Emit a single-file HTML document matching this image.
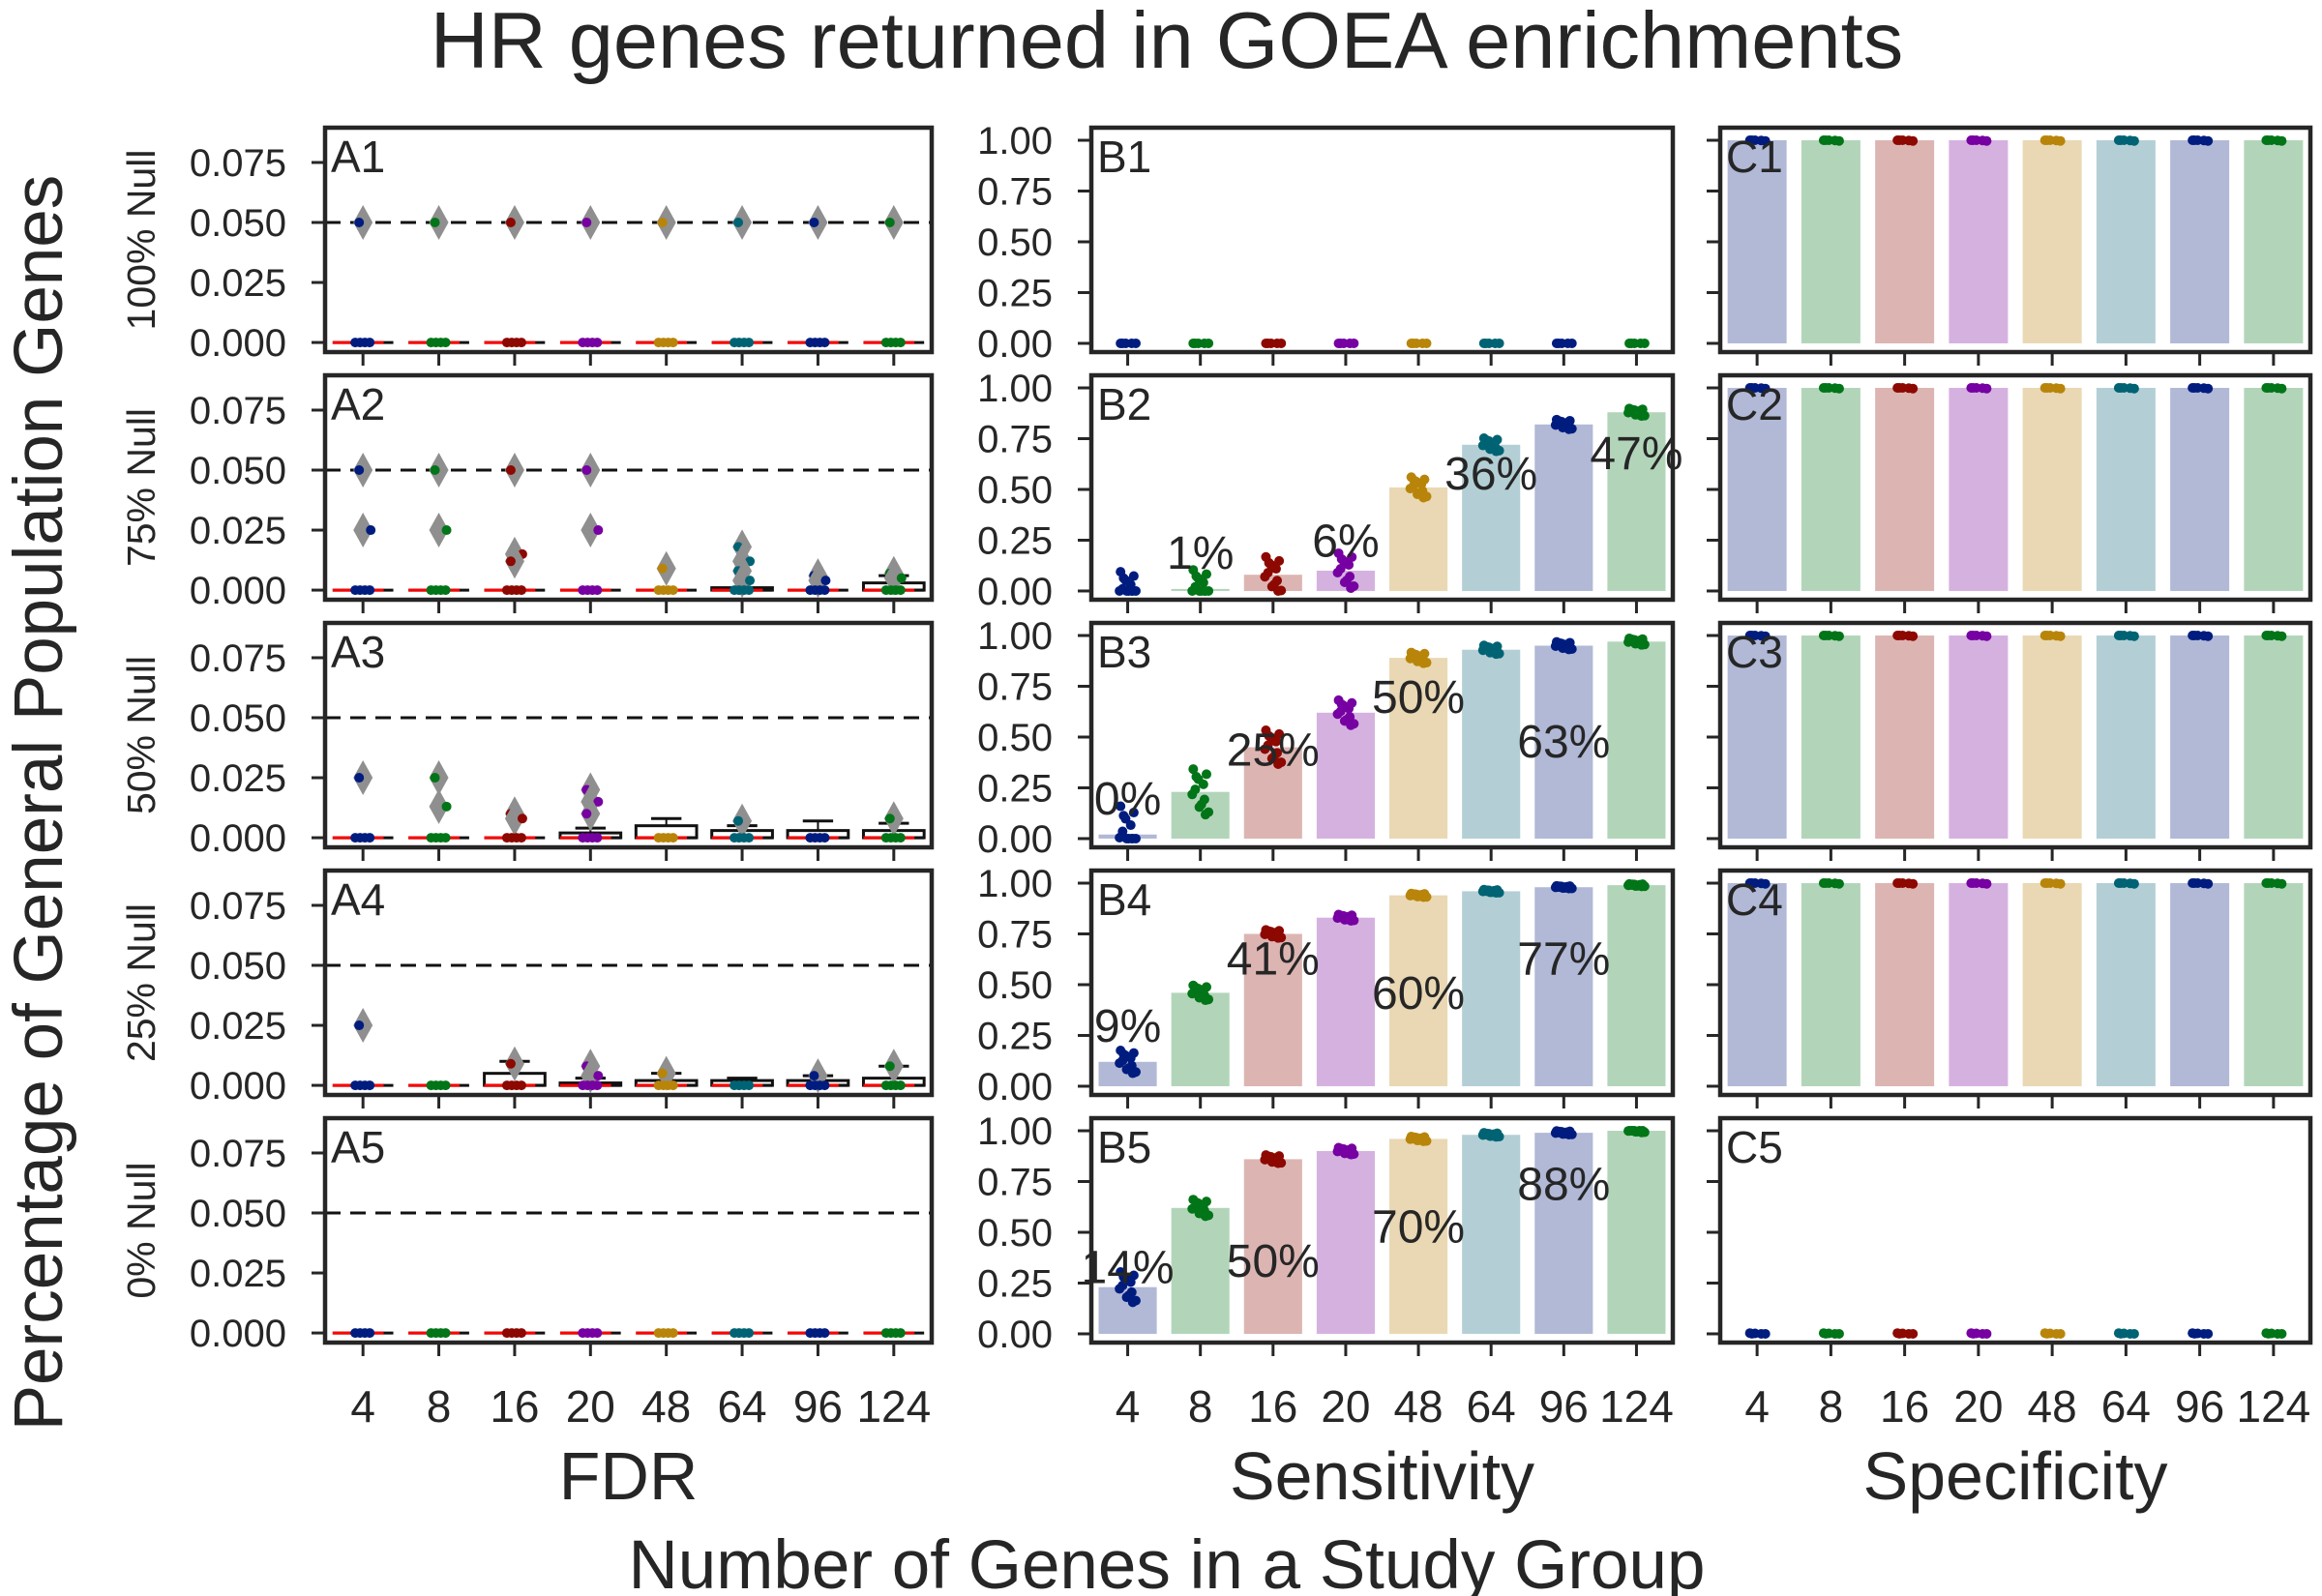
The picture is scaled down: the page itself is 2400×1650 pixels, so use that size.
<!DOCTYPE html>
<html><head><meta charset="utf-8"><style>
html,body{margin:0;padding:0;background:#fff;}
svg{display:block;font-family:"Liberation Sans",Arial,sans-serif;}
</style></head><body>
<svg id="fig" width="2400" height="1650" viewBox="0 0 2400 1650" xmlns="http://www.w3.org/2000/svg">
<text x="1206" y="70" font-size="83" text-anchor="middle" fill="#262626">HR genes returned in GOEA enrichments</text>
<text transform="translate(64,830) rotate(-90)" font-size="71" text-anchor="middle" fill="#262626">Percentage of General Population Genes</text>
<text x="1206" y="1642" font-size="71" text-anchor="middle" fill="#262626">Number of Genes in a Study Group</text>
<g id="plots"></g>
</svg>
<script>
const categories = ["4","8","16","20","48","64","96","124"];
const rowLabels = ["100% Null","75% Null","50% Null","25% Null","0% Null"];
const colTitles = ["FDR","Sensitivity","Specificity"];
const aTicks = ["0.000","0.025","0.050","0.075"];
const aTickVals = [0,0.025,0.05,0.075];
const bTicks = ["0.00","0.25","0.50","0.75","1.00"];
const bTickVals = [0,0.25,0.5,0.75,1.0];
const colors = ["#001c7f","#017517","#8c0800","#7600a1","#b8850a","#006374","#001c7f","#017517"];
const barColors = ["#b1b9d6","#b2d5ba","#dcb5b3","#d5b1e0","#e9d8b3","#b3cfd5","#b1b9d6","#b2d5ba"];
// Sensitivity bar heights per row
const sens1 = [0,0,0,0,0,0,0,0];
const sens2 = [0.0,0.01,0.08,0.10,0.51,0.72,0.82,0.88];
const sens3 = [0.02,0.23,0.45,0.62,0.89,0.93,0.95,0.97];
const sens4 = [0.12,0.46,0.75,0.83,0.94,0.96,0.98,0.99];
const sens5 = [0.23,0.62,0.86,0.90,0.96,0.98,0.99,1.0];
const sensSpread = [0.0,0.06,0.09,0.04,0.06];
// Sensitivity percentage labels: [category index, y position, text]
const sensLab2 = [[1,0.11,"1%"],[3,0.17,"6%"],[5,0.50,"36%"],[7,0.60,"47%"]];
const sensLab3 = [[0,0.12,"0%"],[2,0.36,"25%"],[4,0.62,"50%"],[6,0.40,"63%"]];
const sensLab4 = [[0,0.22,"9%"],[2,0.55,"41%"],[4,0.38,"60%"],[6,0.55,"77%"]];
const sensLab5 = [[0,0.25,"14%"],[2,0.28,"50%"],[4,0.45,"70%"],[6,0.66,"88%"]];
// Specificity bar heights per row
const spec1 = [1,1,1,1,1,1,1,1];
const spec2 = [1,1,1,1,1,1,1,1];
const spec3 = [1,1,1,1,1,1,1,1];
const spec4 = [1,1,1,1,1,1,1,1];
const spec5 = [0,0,0,0,0,0,0,0];
// FDR outliers per category
const out1 = [[0.05],[0.05],[0.05],[0.05],[0.05],[0.05],[0.05],[0.05]];
const out2 = [[0.05,0.025],[0.05,0.025],[0.05,0.015,0.012],[0.05,0.025],[0.009],[0.018,0.012,0.008,0.004],[0.006,0.004],[0.007,0.005]];
const out3 = [[0.025],[0.025,0.013],[0.01,0.008],[0.02,0.015,0.01],[],[0.007],[],[0.008]];
const out4 = [[0.025],[],[0.009],[0.008,0.004],[0.005],[],[0.004],[0.008]];
const out5 = [[],[],[],[],[],[],[],[]];
// FDR box upper quartile / whisker per category
const box1 = [0,0,0,0,0,0,0,0];
const box2 = [0,0,0,0,0,0.001,0,0.003];
const box3 = [0,0,0,0.002,0.005,0.003,0.003,0.003];
const box4 = [0,0,0.005,0.001,0.002,0.002,0.002,0.003];
const box5 = [0,0,0,0,0,0,0,0];
const whisk1 = [0,0,0,0,0,0,0,0];
const whisk2 = [0,0,0,0,0,0.001,0,0.006];
const whisk3 = [0,0,0,0.004,0.008,0.005,0.007,0.006];
const whisk4 = [0,0,0.01,0.003,0.005,0.003,0.004,0.008];
const whisk5 = [0,0,0,0,0,0,0,0];

const sensRows=[sens1,sens2,sens3,sens4,sens5];
const sensLabs=[[],sensLab2,sensLab3,sensLab4,sensLab5];
const specRows=[spec1,spec2,spec3,spec4,spec5];
const outRows=[out1,out2,out3,out4,out5];
const boxRows=[box1,box2,box3,box4,box5];
const whiskRows=[whisk1,whisk2,whisk3,whisk4,whisk5];

const NS="http://www.w3.org/2000/svg";
const root=document.getElementById('plots');
function mk(tag,attrs,parent,text){const e=document.createElementNS(NS,tag);for(const k in attrs)e.setAttribute(k,attrs[k]);if(text!==undefined)e.textContent=text;(parent||root).appendChild(e);return e;}
const cols=[{l:336,r:963},{l:1128,r:1729},{l:1778,r:2388}];
const rowTop=[132,388,644,900,1156];const H=232;
const jx=[-0.35,0.2,-0.1,0.4,-0.25,0.05,0.3,-0.4,0.15,-0.05,0.25,-0.2];
const jy=[0.9,-0.3,0.5,-0.8,0.1,-0.5,0.7,-0.1,0.3,-0.6,-0.9,0.6];
function xs(c,i){const w=(cols[c].r-cols[c].l)/8;return cols[c].l+w*(i+0.5);}
function slotW(c){return (cols[c].r-cols[c].l)/8;}
function yA(r,v){return rowTop[r]+H*(0.0895-v)/(0.0935);}
function yB(r,v){return rowTop[r]+H*(1.062-v)/(1.105);}

for(let r=0;r<5;r++){
  const t=rowTop[r];
  for(let c=0;c<3;c++){
    const g=mk('g',{});
    
    
    const L=cols[c].l,R=cols[c].r;
    const yf=c===0?yA:yB;
    const tv=c===0?aTickVals:bTickVals;
    const tl=c===0?aTicks:bTicks;
    tv.forEach((v,k)=>{
      const y=yf(r,v);
      const tk=mk('line',{x1:L-14,x2:L,y1:y,y2:y,stroke:'#262626','stroke-width':3},g);
      
      
      if(c<2){const lb=mk('text',{x:L-40,y:y+14,'font-size':40,'text-anchor':'end',fill:'#262626'},g,tl[k]);
        
        }
    });
    categories.forEach((cat,i)=>{
      const x=xs(c,i);
      const tk=mk('line',{x1:x,x2:x,y1:t+H,y2:t+H+14,stroke:'#262626','stroke-width':3},g);
      
      
      if(r===4){const lb=mk('text',{x:x,y:1470,'font-size':46,'text-anchor':'middle',fill:'#262626'},g,cat);
        
        }
    });
    if(c===0){
      const dl=mk('line',{x1:L,x2:R,y1:yA(r,0.05),y2:yA(r,0.05),stroke:'#111','stroke-width':3,'stroke-dasharray':'16,10'},g);
      
      
      categories.forEach((cat,i)=>{
        const x=xs(c,i),bw=slotW(c)*0.8;
        const by=boxRows[r][i],wy=whiskRows[r][i];
        if(wy>by){const cap=mk('line',{x1:x-bw/4,x2:x+bw/4,y1:yA(r,wy),y2:yA(r,wy),stroke:'#111','stroke-width':3},g);
          
          
          mk('line',{x1:x,x2:x,y1:yA(r,wy),y2:yA(r,by),stroke:'#111','stroke-width':2},g);}
        if(by>0){const bx=mk('rect',{x:x-bw/2,y:yA(r,by),width:bw,height:yA(r,0)-yA(r,by),fill:'#fff',stroke:'#111','stroke-width':3},g);
          
          }
        const base=mk('line',{x1:x-bw/2,x2:x+bw/2,y1:yA(r,0),y2:yA(r,0),stroke:'#111','stroke-width':3},g);
        
        
        const med=mk('line',{x1:x-bw/2,x2:x+bw/2-10,y1:yA(r,0),y2:yA(r,0),stroke:'#ff0000','stroke-width':3},g);
        
        
        outRows[r][i].forEach((v,k)=>{
          const y=yA(r,v);
          const d=mk('polygon',{points:`${x},${y-18} ${x+10},${y} ${x},${y+18} ${x-10},${y}`,fill:'#8f8f8f'},g);
          
          
          const p=mk('circle',{cx:x+(k%2?8:-4),cy:y,r:5,fill:colors[i]},g);
          
          
        });
        [-8,-3,2,7].forEach(dx=>{mk('circle',{cx:x+dx,cy:yA(r,0),r:5,fill:colors[i]},g);});
      });
    } else {
      const vals=c===1?sensRows[r]:specRows[r];
      vals.forEach((v,i)=>{
        const x=xs(c,i),bw=slotW(c)*0.8;
        if(v>0){const b=mk('rect',{x:x-bw/2,y:yB(r,v),width:bw,height:yB(r,0)-yB(r,v),fill:barColors[i]},g);
          
          }
        const sp=(c===1?sensSpread[r]:0.004)*(c===1?(1-v)*1.6+0.15:1);
        const n=(c===1&&r>0)?12:5;
        for(let k=0;k<n;k++){
          const vy=Math.max(0,Math.min(1,v+jy[k]*sp));
          const p=mk('circle',{cx:x+jx[k]*bw*0.35,cy:yB(r,vy),r:5,fill:colors[i]},g);
          
          
        }
      });
      if(c===1){sensLabs[r].forEach(lab=>{
        const t2=mk('text',{x:xs(1,lab[0]),y:yB(r,lab[1]),'font-size':48,'text-anchor':'middle',fill:'#262626'},g,lab[2]);
        
        
      });}
    }
    const fr=mk('rect',{x:L,y:t,width:R-L,height:H,fill:'none',stroke:'#262626','stroke-width':4.5},g);
    
    
    const pl=mk('text',{x:L+6,y:t+46,'font-size':46,fill:'#262626'},g,"ABC"[c]+(r+1));
    
    
  }
  const rl=mk('text',{transform:`translate(160,${t+H/2}) rotate(-90)`,'font-size':41,'text-anchor':'middle',fill:'#262626'},root,rowLabels[r]);
  
  
}
colTitles.forEach((ct,c)=>{
  const e=mk('text',{x:(cols[c].l+cols[c].r)/2,y:1550,'font-size':70,'text-anchor':'middle',fill:'#262626'},root,ct);
  
  
});
</script>
</body></html>
